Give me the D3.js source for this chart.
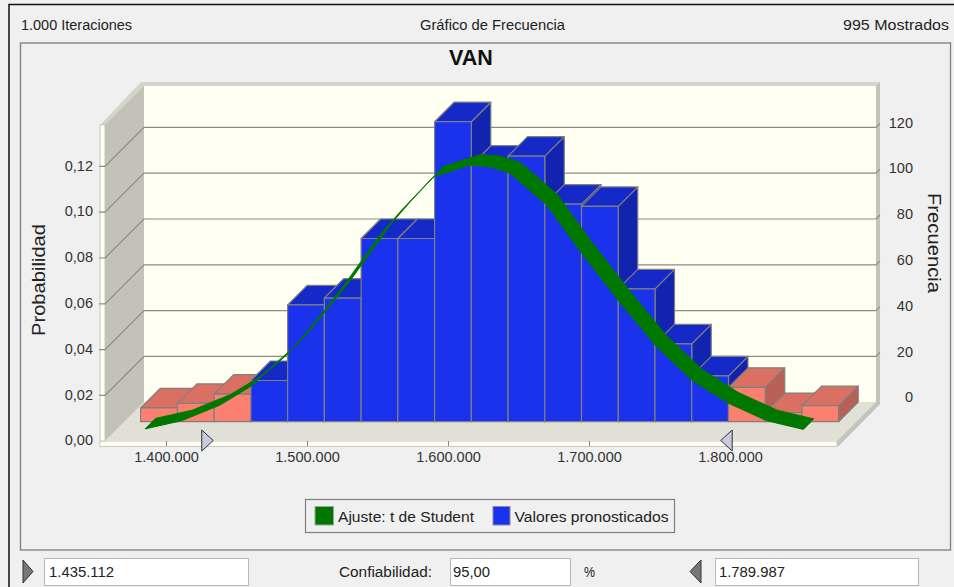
<!DOCTYPE html>
<html>
<head>
<meta charset="utf-8">
<script src="https://cdn.jsdelivr.net/npm/d3@7"></script>
<style>
  html, body { margin: 0; padding: 0; background: #f0f0f0; overflow: hidden; }
  svg { display: block; font-family: "Liberation Sans", sans-serif; }
  .tick text { font-size: 14.5px; fill: #333; }
</style>
</head>
<body>
<svg id="chart" width="954" height="587"></svg>
<script>
// histogram of the forecast, one count per bin
const frequencies = [6, 8, 12, 18, 51, 54, 80, 80, 131, 112, 116, 95, 94, 58, 34, 20, 15, 4, 7];
const binStart = 1368200;
const binWidth = 26056;

// fitted t curve
const fitValues = [1378500, 1404500, 1431700, 1453000, 1479000, 1488400, 1505000, 1518900,
  1531000, 1545200, 1560600, 1583000, 1609000, 1623200, 1637400, 1663400, 1688200,
  1714000, 1740200, 1766200, 1792000, 1819400, 1845400];
const fitFreqs = [1.3, 4.9, 11.7, 19.7, 33.6, 40.1, 52.5, 63.4, 73.8, 86, 96.9, 111.4,
  116.5, 115.8, 113, 99.1, 78.1, 57.6, 37.9, 22.7, 12.6, 4.9, 1.1];

const xTicks = [1400000, 1500000, 1600000, 1700000, 1800000];
const freqTicks = [0, 20, 40, 60, 80, 100, 120];
const probTicks = [0, 0.02, 0.04, 0.06, 0.08, 0.1, 0.12];

const certainty = [1435112, 1789987];
const sliderMarks = [1433500, 1793400];

const svg = d3.select("#chart");
const es = d3.formatLocale({ decimal: ",", thousands: ".", grouping: [3], currency: ["", ""] });

// Front plane of the box. depth moves a point up and to the right, into the box
const x = d3.scaleLinear().domain([1400000, 1800000]).range([166, 730]);
const yFreq = d3.scaleLinear().domain([0, 130]).range([441.2, 143.5]);
const yProb = d3.scaleLinear().domain([0, 0.13]).range([441.2, 143.5]);
const boxDepth = 39;
const barFront = 19.5;
const ribbonFront = 9.3;
const ribbonBack = 19.8;
const left = 105, right = 837, wallTop = 125;

const px = (v, depth) => x(v) + depth;
const py = (f, depth) => yFreq(f) - depth;
const poly = (pts) => "M" + pts.map(p => p.join(",")).join("L") + "Z";

// Header and panel
svg.append("path").attr("d", "M9,587V4.5H954").attr("fill", "none").attr("stroke", "#111").attr("stroke-width", 1.5);
svg.append("rect").attr("x", 20.5).attr("y", 43).attr("width", 930).attr("height", 507)
  .attr("fill", "#f0f0f0").attr("stroke", "#858585").attr("stroke-width", 1.4);

function label(txt, tx, ty, width, anchor, size) {
  return svg.append("text")
    .attr("x", tx).attr("y", ty)
    .attr("text-anchor", anchor || "start")
    .attr("dominant-baseline", "central")
    .attr("textLength", width)
    .attr("lengthAdjust", "spacingAndGlyphs")
    .style("font-size", (size || 14) + "px")
    .style("fill", "#222")
    .text(txt);
}

label("1.000 Iteraciones", 21, 25, 111);
label("Gráfico de Frecuencia", 420, 25, 145);
label("995 Mostrados", 843, 25, 106);

svg.append("text").attr("x", 471).attr("y", 57.5)
  .attr("text-anchor", "middle").attr("dominant-baseline", "central")
  .style("font-size", "21.5px").style("font-weight", "bold").style("fill", "#111")
  .text("VAN");

// Box: outer strips, walls and floor
const box = svg.append("g");
box.append("path")
  .attr("d", poly([[100, 125], [141, 82], [880, 82], [880, 404], [838, 446.5], [100, 446.5]]))
  .attr("fill", "#d4d4ca");
box.append("path")
  .attr("d", poly([[right + boxDepth, 86], [880, 82], [880, 404], [838, 446.5], [right, 441], [right + boxDepth, 402]]))
  .attr("fill", "#c4c4ba");
box.append("rect").attr("x", 100).attr("y", 441).attr("width", 737).attr("height", 5.5)
  .attr("fill", "#fffff2").attr("stroke", "#c8c8be");
box.append("rect").attr("x", 100).attr("y", 125).attr("width", 5).attr("height", 316)
  .attr("fill", "#fffff2").attr("stroke", "#c8c8be");
box.append("rect").attr("x", left + boxDepth).attr("y", 86).attr("width", right - left).attr("height", 316)
  .attr("fill", "#fffff2");
box.append("path")
  .attr("d", poly([[left, wallTop], [left + boxDepth, wallTop - boxDepth], [left + boxDepth, 402], [left, 441]]))
  .attr("fill", "#c2c2b8");
box.append("path")
  .attr("d", poly([[left, 441], [left + boxDepth, 402], [right + boxDepth, 402], [right, 441]]))
  .attr("fill", "#e0e0d6");

// Gridlines run along the back wall and down the left wall, with a stub on each strip
const grid = box.append("g").attr("fill", "none").attr("stroke", "#8c8c86").attr("stroke-width", 1.2);
grid.selectAll("path")
  .data(freqTicks.filter(d => d > 0))
  .join("path")
  .attr("d", d => {
    const yb = py(d, boxDepth);
    return `M${left - 6},${yb + boxDepth}H${left}L${left + boxDepth},${yb}H${right + boxDepth}l4,-4`;
  });

// Axes
const xAxis = svg.append("g")
  .attr("transform", "translate(0,441)")
  .call(d3.axisBottom(x).tickValues(xTicks).tickSize(5).tickPadding(6).tickFormat(es.format(",d")));
xAxis.select(".domain").remove();
xAxis.selectAll("line").attr("stroke", "#888");

const probAxis = svg.append("g")
  .attr("transform", "translate(93,-1)")
  .call(d3.axisLeft(yProb).tickValues(probTicks).tickSize(0).tickPadding(0).tickFormat(es.format(".2f")));
probAxis.select(".domain").remove();

const freqAxis = svg.append("g")
  .attr("transform", `translate(913,${-boxDepth - 5})`)
  .call(d3.axisRight(yFreq).tickValues(freqTicks).tickSize(0).tickPadding(0).tickFormat(d3.format("d")));
freqAxis.select(".domain").remove();
freqAxis.selectAll("text").attr("text-anchor", "end");

svg.append("text")
  .attr("transform", "translate(38,280) rotate(-90)")
  .attr("text-anchor", "middle").attr("dominant-baseline", "central")
  .attr("textLength", 112).attr("lengthAdjust", "spacingAndGlyphs")
  .style("font-size", "18.5px").style("fill", "#222")
  .text("Probabilidad");

svg.append("text")
  .attr("transform", "translate(934,243) rotate(90)")
  .attr("text-anchor", "middle").attr("dominant-baseline", "central")
  .attr("textLength", 100).attr("lengthAdjust", "spacingAndGlyphs")
  .style("font-size", "18.5px").style("fill", "#222")
  .text("Frecuencia");

// Bars, left to right so each one hides the side of the one before it
const blue = { front: "#1a32eb", top: "#1528c8", side: "#1223af" };
const red = { front: "#fc8070", top: "#da7062", side: "#b96055" };
const d = barFront;

const bars = svg.append("g").attr("stroke", "#7f7f7f").attr("stroke-width", 1.2).attr("stroke-linejoin", "round");
frequencies.forEach((f, i) => {
  const v0 = binStart + i * binWidth;
  const v1 = v0 + binWidth;
  const c = (v0 < certainty[0] || v1 > certainty[1]) ? red : blue;
  const x0 = px(v0, d), x1 = px(v1, d);
  const yt = py(f, d), yb = py(0, d);
  const bar = bars.append("g");
  bar.append("path").attr("d", poly([[x1, yt], [x1 + d, yt - d], [x1 + d, yb - d], [x1, yb]])).attr("fill", c.side);
  bar.append("path").attr("d", poly([[x0, yt], [x0 + d, yt - d], [x1 + d, yt - d], [x1, yt]])).attr("fill", c.top);
  bar.append("rect").attr("x", x0).attr("y", yt).attr("width", x1 - x0).attr("height", yb - yt).attr("fill", c.front);
});

// Fit curve is a flat ribbon going into the box, thin where it climbs at the viewing angle
const fit = fitValues.map((v, i) => ({ v, f: fitFreqs[i] }));
const ribbon = d3.area()
  .x0(p => px(p.v, ribbonFront))
  .y0(p => py(p.f, ribbonFront))
  .x1(p => px(p.v, ribbonBack))
  .y1(p => py(p.f, ribbonBack))
  .curve(d3.curveLinear);
svg.append("path").attr("d", ribbon(fit))
  .attr("fill", "#007800").attr("stroke", "#007800").attr("stroke-width", 1).attr("stroke-linejoin", "round");

// Certainty sliders on the floor
const sliderY = 440.5;
const sliders = svg.append("g").attr("fill", "#c9c9e0").attr("stroke", "#333").attr("stroke-width", 1);
sliders.append("path").attr("d", poly([[x(sliderMarks[0]), sliderY], [x(sliderMarks[0]) - 11.5, sliderY - 10.5], [x(sliderMarks[0]) - 11.5, sliderY + 10.5]]));
sliders.append("path").attr("d", poly([[x(sliderMarks[1]), sliderY], [x(sliderMarks[1]) + 11.5, sliderY - 10.5], [x(sliderMarks[1]) + 11.5, sliderY + 10.5]]));

// Legend
svg.append("rect").attr("x", 305.5).attr("y", 499.5).attr("width", 369).attr("height", 33)
  .attr("fill", "#f0f0f0").attr("stroke", "#808080").attr("stroke-width", 1.2);
svg.append("rect").attr("x", 315).attr("y", 506.5).attr("width", 18.5).attr("height", 18.5)
  .attr("fill", "#007800").attr("stroke", "#9aa89a");
svg.append("rect").attr("x", 493).attr("y", 506.5).attr("width", 17).attr("height", 18.5)
  .attr("fill", "#1a32eb").attr("stroke", "#8a8aa0");
label("Ajuste: t de Student", 338, 517, 136);
label("Valores pronosticados", 514.5, 517, 154);

// Bottom row with the certainty range
const fields = [
  { x: 44, w: 204, tx: 49, len: 65, txt: es.format(",d")(certainty[0]) },
  { x: 450, w: 120, tx: 453, len: 37, txt: "95,00" },
  { x: 715, w: 203, tx: 719, len: 66, txt: es.format(",d")(certainty[1]) }
];
fields.forEach(b => {
  svg.append("rect").attr("x", b.x + 0.5).attr("y", 558.5).attr("width", b.w).attr("height", 27)
    .attr("fill", "#fff").attr("stroke", "#b8b8b8");
  label(b.txt, b.tx, 571.5, b.len);
});
label("Confiabilidad:", 339, 571.5, 93);
label("%", 584, 571.5, 11);

const arrowFill = "#777";
svg.append("path").attr("d", poly([[23, 560], [33, 571.5], [23, 583]])).attr("fill", arrowFill).attr("stroke", "#333");
svg.append("path").attr("d", poly([[701, 560], [690, 571.5], [701, 583]])).attr("fill", arrowFill).attr("stroke", "#333");
</script>
</body>
</html>
